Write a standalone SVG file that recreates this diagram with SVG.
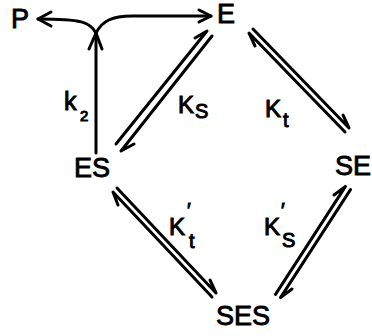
<svg xmlns="http://www.w3.org/2000/svg" width="372" height="336" viewBox="0 0 372 336">
<style>
.n{font-family:"Liberation Sans",Arial,sans-serif;font-size:27px;fill:#000;stroke:#000;stroke-width:0.9px}
.l{font-family:"Liberation Sans",Arial,sans-serif;fill:#000;stroke:#000;stroke-width:1px}
.c{fill:none;stroke:#000;stroke-width:3;stroke-linecap:round;stroke-linejoin:round}
</style>
<rect width="372" height="336" fill="#fff"/>
<g id="P"><text class="n" x="11" y="28">P</text></g>
<g id="E"><text class="n" x="217" y="23">E</text></g>
<g id="ES"><text class="n" x="74" y="177">ES</text></g>
<g id="SE"><text class="n" x="335" y="175">SE</text></g>
<g id="SES"><text class="n" x="216" y="325">SES</text></g>
<g id="connectors">
  <path class="c" d="M96,153 L96,34"/>
  <path class="c" d="M89,49 L96,33 L102,49"/>
  <path class="c" d="M96,33 C90,22 82,19 38,19"/>
  <path class="c" d="M51,12 L38,19 L51,26"/>
  <path class="c" d="M96,33 C102,21 112,16 132,16 L211,16"/>
  <path class="c" d="M199,10 L211,16 L199,22"/>
  <path class="c" d="M116,144 L207,31 L195,38"/>
  <path class="c" d="M212,36 L121,151 L134,144"/>
  <path class="c" d="M253,29 L349,128 L343,115"/>
  <path class="c" d="M345,132 L249,33 L255,46"/>
  <path class="c" d="M117,188 L216,293 L210,280"/>
  <path class="c" d="M212,297 L113,192 L118,205"/>
  <path class="c" d="M275.5,294.4 L345.5,186.4 L334,195"/>
  <path class="c" d="M350.5,189.6 L280.5,297.6 L292,289"/>
</g>
<g id="labels">
  <text class="l" x="64" y="110" font-size="25">k</text><text class="l" x="80" y="121" font-size="15">2</text>
  <text class="l" x="178" y="113" font-size="24">K</text><text class="l" x="195" y="118" font-size="20">S</text>
  <text class="l" x="265" y="117" font-size="24">K</text><text class="l" x="283" y="127" font-size="20">t</text>
  <text class="l" x="169" y="235" font-size="24">K</text><text class="l" x="187" y="217" font-size="20">′</text><text class="l" x="189" y="248" font-size="20">t</text>
  <text class="l" x="264" y="235" font-size="24">K</text><text class="l" x="281" y="217" font-size="20">′</text><text class="l" x="282" y="247" font-size="20">S</text>
</g>
</svg>
